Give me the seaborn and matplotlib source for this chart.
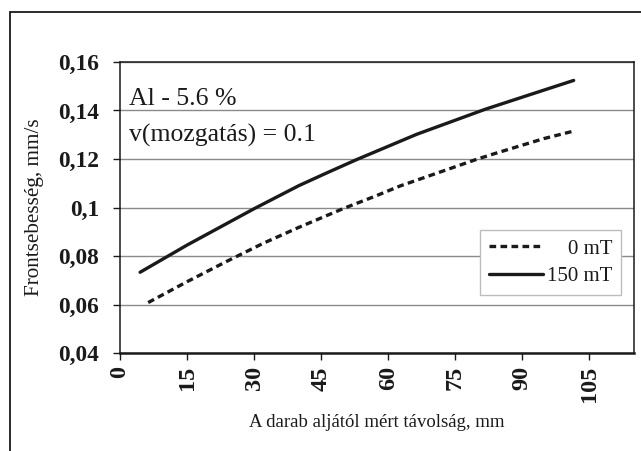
import matplotlib
matplotlib.use("Agg")
import matplotlib.pyplot as plt
from matplotlib.patches import Rectangle
import seaborn as sns
import pandas as pd

# Front velocity vs. distance from the bottom of the casting
x_0mT = [6.3, 15, 24, 32, 40, 50, 57, 62.7, 80, 83.6, 90, 94.8, 101.9]
y_0mT = [0.0608, 0.0694, 0.0779, 0.0852, 0.0918, 0.0996, 0.1046, 0.1089,
         0.1200, 0.1221, 0.1257, 0.1284, 0.1317]

x_150mT = [4.5, 15, 30, 40, 46.3, 53, 66.4, 81.7, 91, 101.5]
y_150mT = [0.0733, 0.0845, 0.0995, 0.1090, 0.1143, 0.1198, 0.1302, 0.1405,
           0.1461, 0.1524]

series_labels = ["0 mT", "150 mT"]
x_ticks = [0, 15, 30, 45, 60, 75, 90, 105]
y_ticks = [0.04, 0.06, 0.08, 0.10, 0.12, 0.14, 0.16]
y_tick_labels = ["0,04", "0,06", "0,08", "0,1", "0,12", "0,14", "0,16"]

df = pd.concat([
    pd.DataFrame({"x": x_0mT, "y": y_0mT, "tér": series_labels[0]}),
    pd.DataFrame({"x": x_150mT, "y": y_150mT, "tér": series_labels[1]}),
])

sns.set_theme(style="white")
plt.rcParams["font.family"] = ["Liberation Serif", "DejaVu Serif"]

fig = plt.figure(figsize=(6.41, 4.51), dpi=100)
ax = fig.add_axes([120 / 641, 1 - 353 / 451, (634 - 120) / 641, (353 - 62) / 451])

ink = "#1a1a1a"
styles = {series_labels[0]: (0, (2.0, 1.3)), series_labels[1]: "-"}
for lab in series_labels:
    sub = df[df["tér"] == lab]
    sns.lineplot(data=sub, x="x", y="y", ax=ax, color=ink, linewidth=2.4,
                 linestyle=styles[lab], label=lab, sort=True,
                 solid_joinstyle="round", dash_joinstyle="round")

ax.set_xlim(0, 115)
ax.set_ylim(0.04, 0.16)
ax.set_xticks(x_ticks)
ax.set_xticklabels([str(v) for v in x_ticks], rotation=90, fontweight="bold",
                   fontsize=17.5, color=ink)
ax.set_yticks(y_ticks)
ax.set_yticklabels(y_tick_labels, fontweight="bold", fontsize=16.8, color=ink)
ax.yaxis.grid(True, color="#8a8a8a", linewidth=1.0)
ax.xaxis.grid(False)
ax.tick_params(axis="both", direction="out", length=5, width=1, color=ink,
               bottom=True, left=True)
ax.tick_params(axis="y", pad=10)
ax.tick_params(axis="x", pad=4.5)

for side in ["top", "right", "left"]:
    ax.spines[side].set_color(ink)
    ax.spines[side].set_linewidth(1.1)
ax.spines["bottom"].set_color(ink)
ax.spines["bottom"].set_linewidth(1.8)

ax.set_xlabel("A darab aljától mért távolság, mm", fontsize=13.5, color=ink, labelpad=8)
ax.set_ylabel("Frontsebesség, mm/s", fontsize=15.2, color=ink, labelpad=10)

ax.text(0.018, 0.873, "Al - 5.6 %", transform=ax.transAxes, fontsize=18.5,
        color=ink, va="center", ha="left")
ax.text(0.018, 0.749, "v(mozgatás) = 0.1", transform=ax.transAxes, fontsize=18.5,
        color=ink, va="center", ha="left")

leg = ax.legend(loc="upper left", bbox_to_anchor=(0.700, 0.422), fontsize=15,
                frameon=True, fancybox=False, framealpha=1, edgecolor="#bdbdbd",
                handlelength=2.6, handletextpad=0.2, borderpad=0.42,
                labelspacing=0.4, borderaxespad=0)
leg.get_frame().set_linewidth(1.0)

# Right-align legend entries by shifting shorter labels
fig.canvas.draw()
renderer = fig.canvas.get_renderer()
widths = [t.get_window_extent(renderer).width for t in leg.get_texts()]
widest = max(widths)
for t, w in zip(leg.get_texts(), widths):
    t.set_position((widest - w, 0))
    t.set_color(ink)

# Outer chart frame
fig.patches.append(Rectangle((10 / 641, -0.1), 1.2, 1 - 12 / 451 + 0.1,
                             transform=fig.transFigure, fill=False,
                             edgecolor=ink, linewidth=1.3))

fig.savefig("out.png", dpi=100)
